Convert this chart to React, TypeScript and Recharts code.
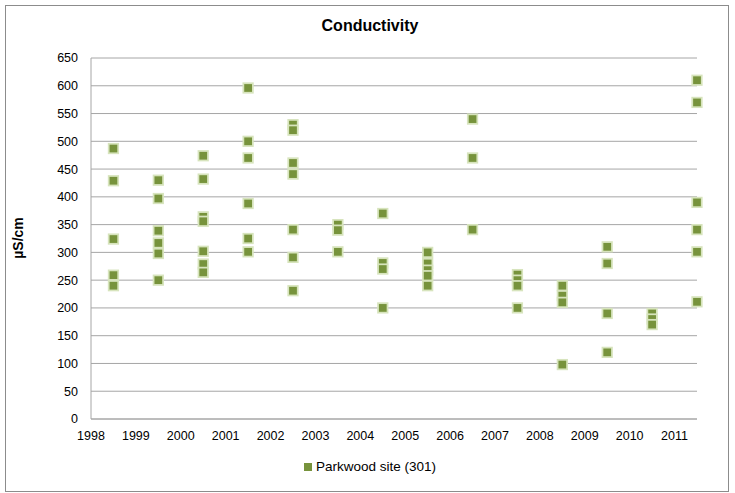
import { CartesianGrid, Scatter, ScatterChart, XAxis, YAxis } from "recharts";

const years = [1998, 1999, 2000, 2001, 2002, 2003, 2004, 2005, 2006, 2007, 2008, 2009, 2010, 2011];

// µS/cm readings per year (sampled mid-year)
const conductivity: number[][] = [
  [487, 429, 324, 259, 240],
  [430, 397, 339, 317, 298, 250],
  [474, 432, 364, 356, 302, 279, 264],
  [596, 500, 470, 388, 325, 301],
  [530, 520, 461, 441, 341, 291, 231],
  [350, 340, 301],
  [370, 281, 270, 200],
  [300, 280, 268, 258, 240],
  [540, 470, 341],
  [260, 250, 240, 200],
  [240, 222, 210, 98],
  [310, 280, 190, 120],
  [190, 180, 170],
  [610, 570, 390, 341, 301, 211],
];

const yTicks = [0, 50, 100, 150, 200, 250, 300, 350, 400, 450, 500, 550, 600, 650];

const points = years.flatMap((yr, i) =>
  conductivity[i].map((v) => ({ x: yr + 0.5, y: v }))
);

const FONT = '"Liberation Sans", Arial, sans-serif';
const GREEN = "#77933C";

function SquareMarker(props: { cx?: number; cy?: number }) {
  const { cx = 0, cy = 0 } = props;
  return (
    <rect
      x={cx - 4.75}
      y={cy - 4.75}
      width={9.5}
      height={9.5}
      fill={GREEN}
      stroke="#D7E4BD"
      strokeWidth={1.75}
    />
  );
}

export default function App() {
  return (
    <div
      style={{
        position: "absolute",
        left: 0,
        top: 0,
        width: 735,
        height: 493,
        background: "#fff",
        fontFamily: FONT,
      }}
    >
      <div
        style={{
          position: "absolute",
          left: 5,
          top: 5,
          width: 722,
          height: 485,
          border: "1px solid #8c8c8c",
        }}
      />
      <div
        style={{
          position: "absolute",
          left: 0,
          width: 740,
          top: 17,
          textAlign: "center",
          fontSize: 16,
          fontWeight: "bold",
          color: "#000",
        }}
      >
        Conductivity
      </div>
      <div
        style={{
          position: "absolute",
          left: 18,
          top: 238,
          transform: "translate(-50%, -50%) rotate(-90deg)",
          fontSize: 14,
          fontWeight: "bold",
          whiteSpace: "nowrap",
        }}
      >
        µS/cm
      </div>
      <div style={{ position: "absolute", left: 0, top: 0 }}>
        <ScatterChart
          width={735}
          height={493}
          margin={{ top: 58, right: 38, bottom: 44, left: 0 }}
        >
          <CartesianGrid vertical={false} stroke="#a6a6a6" />
          <XAxis
            type="number"
            dataKey="x"
            domain={[1998, 2011.5]}
            ticks={years}
            height={30}
            tickLine={false}
            tickSize={0}
            tickMargin={12}
            axisLine={{ stroke: "#a6a6a6" }}
            tick={{ fill: "#000", fontSize: 12.5, fontFamily: FONT }}
          />
          <YAxis
            type="number"
            dataKey="y"
            domain={[0, 650]}
            ticks={yTicks}
            width={91}
            tickLine={false}
            tickSize={0}
            tickMargin={13}
            axisLine={{ stroke: "#a6a6a6" }}
            tick={{ fill: "#000", fontSize: 12.5, fontFamily: FONT }}
          />
          <Scatter
            name="Parkwood site (301)"
            data={points}
            fill={GREEN}
            shape={<SquareMarker />}
            isAnimationActive={false}
          />
        </ScatterChart>
      </div>
      <div
        style={{
          position: "absolute",
          left: 304,
          top: 459,
          display: "flex",
          alignItems: "center",
          fontSize: 13.5,
          color: "#000",
        }}
      >
        <span
          style={{
            display: "inline-block",
            width: 8,
            height: 8,
            background: GREEN,
            marginRight: 4,
          }}
        />
        Parkwood site (301)
      </div>
    </div>
  );
}
